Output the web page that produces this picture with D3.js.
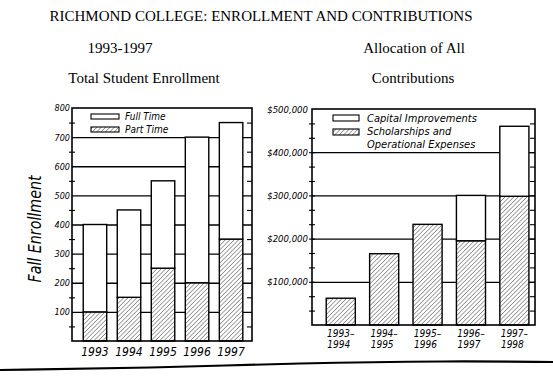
<!DOCTYPE html>
<html>
<head>
<meta charset="utf-8">
<script src="https://cdn.jsdelivr.net/npm/d3@7"></script>
<style>
  body { margin: 0; background: #fff; }
  svg { display: block; }
  .serif { font-family: "Liberation Serif", "Times New Roman", serif; font-size: 15px; fill: #000; }
  .hand { font-family: "Liberation Sans Narrow", "DejaVu Sans Condensed", sans-serif; font-style: italic; fill: #000; }
</style>
</head>
<body>
<svg id="chart"></svg>
<script>
// enrollment data (left chart)
const years = ["1993", "1994", "1995", "1996", "1997"];
const partTime = [100, 150, 250, 200, 350];
const fullTime = [300, 300, 300, 500, 400];
const enrollTicks = [100, 200, 300, 400, 500, 600, 700, 800];

// contributions data (right chart)
const periods = ["1993-94", "1994-95", "1995-96", "1996-97", "1997-98"];
const periodTop = ["1993–", "1994–", "1995–", "1996–", "1997–"];
const periodBottom = ["1994", "1995", "1996", "1997", "1998"];
const scholarships = [62000, 165000, 233000, 195000, 298000];
const capital = [0, 0, 0, 105000, 162000];
const moneyTicks = [100000, 200000, 300000, 400000, 500000];
const moneyLabels = ["$100,000", "$200,000", "$300,000", "$400,000", "$500,000"];

const W = 553, H = 384;
const svg = d3.select("#chart").attr("width", W).attr("height", H);
svg.append("rect").attr("width", W).attr("height", H).attr("fill", "#fff");

//hatch pattern
const defs = svg.append("defs");
const pat = defs.append("pattern")
    .attr("id", "hatch")
    .attr("patternUnits", "userSpaceOnUse")
    .attr("width", 3.1).attr("height", 3.1)
    .attr("patternTransform", "rotate(45)");
pat.append("rect").attr("width", 3.1).attr("height", 3.1).attr("fill", "#fff");
pat.append("line").attr("x1", 0).attr("y1", 0).attr("x2", 0).attr("y2", 3.1)
    .attr("stroke", "#333").attr("stroke-width", 0.9);

//headings
svg.append("text").attr("class", "serif").attr("x", 261).attr("y", 21)
    .attr("text-anchor", "middle").text("RICHMOND COLLEGE: ENROLLMENT AND CONTRIBUTIONS");
svg.append("text").attr("class", "serif").attr("x", 120).attr("y", 53)
    .attr("text-anchor", "middle").text("1993-1997");
svg.append("text").attr("class", "serif").attr("x", 144).attr("y", 83)
    .attr("text-anchor", "middle").text("Total Student Enrollment");
svg.append("text").attr("class", "serif").attr("x", 414).attr("y", 53)
    .attr("text-anchor", "middle").text("Allocation of All");
svg.append("text").attr("class", "serif").attr("x", 413).attr("y", 83)
    .attr("text-anchor", "middle").text("Contributions");

function drawChart(opts) {
    const { x0, x1, y0, y1, cats, lower, upper, max, grid, minor, minorRight, padIn, padOut, align } = opts;
    const g = svg.append("g");
    const x = d3.scaleBand().domain(cats).range([x0, x1])
        .paddingInner(padIn).paddingOuter(padOut).align(align);
    const y = d3.scaleLinear().domain([0, max]).range([y1, y0]);

    //gridlines
    g.append("g").attr("transform", `translate(${x0},0)`)
        .call(d3.axisLeft(y).tickValues(grid).tickSize(-(x1 - x0)).tickFormat(""))
        .call(s => s.select(".domain").remove())
        .selectAll("line").attr("stroke", "#000").attr("stroke-width", 1.3);

    //stacked bars
    const rows = cats.map((c, i) => ({ cat: c, low: lower[i], up: upper[i] }));
    const stack = d3.stack().keys(["low", "up"])(rows);
    stack.forEach((layer, li) => {
        g.append("g").selectAll("rect")
            .data(layer.filter(d => d[1] > d[0]))
            .join("rect")
            .attr("x", d => x(d.data.cat))
            .attr("width", x.bandwidth())
            .attr("y", d => y(d[1]))
            .attr("height", d => y(d[0]) - y(d[1]))
            .attr("fill", li === 0 ? "url(#hatch)" : "#fff")
            .attr("stroke", "#000")
            .attr("stroke-width", 1.4);
    });

    //frame
    g.append("rect").attr("x", x0).attr("y", y0)
        .attr("width", x1 - x0).attr("height", y1 - y0)
        .attr("fill", "none").attr("stroke", "#000").attr("stroke-width", 1.6);

    //minor ticks
    g.append("g").attr("transform", `translate(${x0 + 3},0)`)
        .call(d3.axisLeft(y).tickValues(minor).tickSize(6).tickFormat(""))
        .call(s => s.select(".domain").remove())
        .selectAll("line").attr("stroke-width", 1.1);
    g.append("g").attr("transform", `translate(${x1},0)`)
        .call(d3.axisLeft(y).tickValues(minorRight).tickSize(5).tickFormat(""))
        .call(s => s.select(".domain").remove())
        .selectAll("line").attr("stroke-width", 1.1);

    return { g, x, y };
}

// left chart
const left = drawChart({
    x0: 72, x1: 252, y0: 108, y1: 341,
    cats: years, lower: partTime, upper: fullTime, max: 800,
    grid: [100, 200, 300, 400, 500, 600, 700],
    minor: [50, 150, 250, 350, 450, 550, 650, 750],
    minorRight: [50, 150, 250, 350, 450, 550, 650, 750],
    padIn: 0.31, padOut: 0.3, align: 0.55
});
left.g.append("g").attr("transform", "translate(72,0)")
    .call(d3.axisLeft(left.y).tickValues(enrollTicks).tickSize(0).tickPadding(2))
    .call(s => s.select(".domain").remove())
    .selectAll("text").attr("class", "hand").style("font-size", "9px");
left.g.append("g").selectAll("text").data(years).join("text")
    .attr("class", "hand")
    .attr("x", d => left.x(d) + left.x.bandwidth() / 2)
    .attr("y", 356)
    .attr("text-anchor", "middle")
    .style("font-size", "12px")
    .text(d => d);
svg.append("text").attr("class", "hand")
    .attr("transform", "translate(41,229) rotate(-90)")
    .attr("text-anchor", "middle")
    .attr("textLength", 107).attr("lengthAdjust", "spacingAndGlyphs")
    .style("font-size", "17px")
    .text("Fall Enrollment");

// left legend
const legL = svg.append("g");
[["#fff", "Full Time"], ["url(#hatch)", "Part Time"]].forEach((d, i) => {
    legL.append("rect").attr("x", 91).attr("y", 114 + i * 13)
        .attr("width", 28).attr("height", 5)
        .attr("fill", d[0]).attr("stroke", "#000").attr("stroke-width", 1.1);
    legL.append("text").attr("class", "hand").attr("x", 125).attr("y", 120 + i * 13)
        .style("font-size", "10px").text(d[1]);
});

// right chart
const thirds = d3.range(1, 15).map(k => k * 100000 / 3);
const right = drawChart({
    x0: 312, x1: 535, y0: 109, y1: 325,
    cats: periods, lower: scholarships, upper: capital, max: 500000,
    grid: [100000, 200000, 300000, 400000],
    minor: thirds, minorRight: thirds,
    padIn: 0.33, padOut: 0.234, align: 0.7
});
right.g.append("g").attr("transform", "translate(312,0)")
    .call(d3.axisLeft(right.y).tickValues(moneyTicks).tickSize(0).tickPadding(4)
        .tickFormat((d, i) => moneyLabels[i]))
    .call(s => s.select(".domain").remove())
    .selectAll("text").attr("class", "hand").style("font-size", "9.5px");
right.g.append("g").selectAll("text").data(periods).join("text")
    .attr("class", "hand")
    .attr("x", d => right.x(d) + right.x.bandwidth() / 2)
    .attr("y", 337)
    .attr("text-anchor", "middle")
    .style("font-size", "10px")
    .text((d, i) => periodTop[i]);
right.g.append("g").selectAll("text").data(periods).join("text")
    .attr("class", "hand")
    .attr("x", d => right.x(d) + right.x.bandwidth() / 2 - 2)
    .attr("y", 348)
    .attr("text-anchor", "middle")
    .style("font-size", "10px")
    .text((d, i) => periodBottom[i]);

// right legend
const legR = svg.append("g");
legR.append("rect").attr("x", 333).attr("y", 115).attr("width", 26).attr("height", 6)
    .attr("fill", "#fff").attr("stroke", "#000").attr("stroke-width", 1.1);
legR.append("rect").attr("x", 333).attr("y", 129).attr("width", 26).attr("height", 6)
    .attr("fill", "url(#hatch)").attr("stroke", "#000").attr("stroke-width", 1.1);
[["Capital Improvements", 122], ["Scholarships and", 135], ["Operational Expenses", 148]].forEach(d => {
    legR.append("text").attr("class", "hand").attr("x", 367).attr("y", d[1])
        .style("font-size", "11px").text(d[0]);
});

//underline at the bottom
svg.append("path")
    .attr("d", d3.line().curve(d3.curveBasis)([[0, 370], [150, 368], [300, 363], [450, 361], [553, 362]]))
    .attr("fill", "none").attr("stroke", "#000").attr("stroke-width", 2.2);
</script>
</body>
</html>
